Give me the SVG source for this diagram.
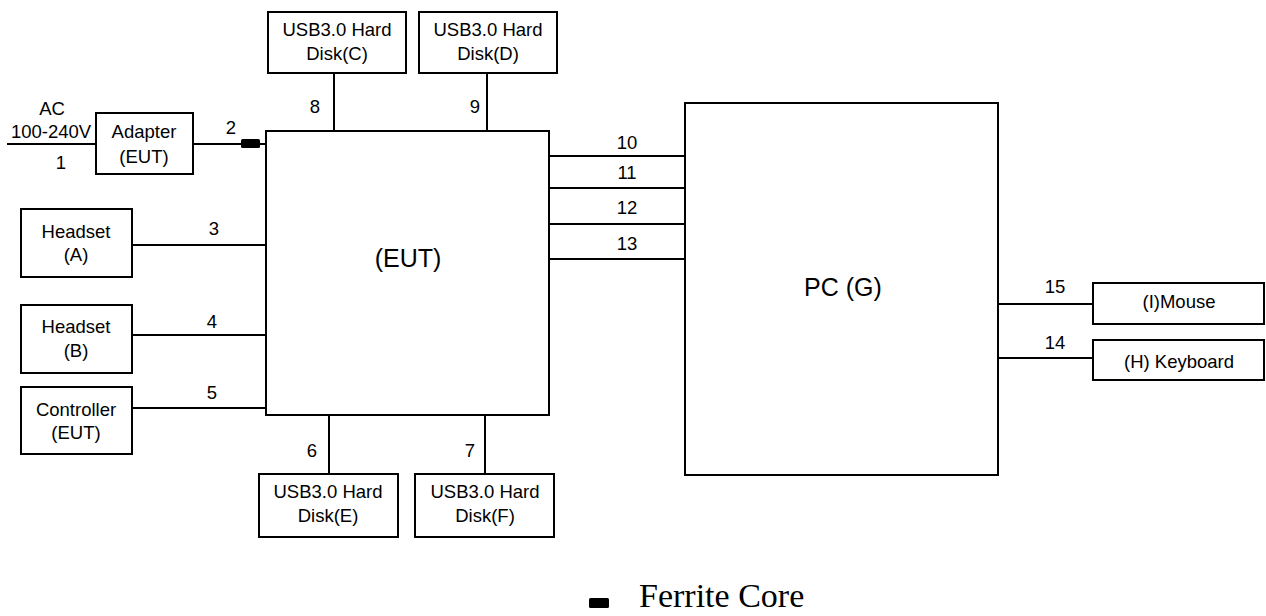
<svg xmlns="http://www.w3.org/2000/svg" width="1266" height="616" viewBox="0 0 1266 616">
<style>
rect.box{fill:#fff;stroke:#000;stroke-width:2}
.conn line{stroke:#000;stroke-width:2}
text{font-family:"Liberation Sans",Arial,sans-serif;font-size:18.5px;fill:#000;text-anchor:middle}
text.big{font-size:25px}
text.legend{font-family:"Liberation Serif","Times New Roman",serif;font-size:34px;text-anchor:start}
.core{fill:#000}
</style>
<rect width="1266" height="616" fill="#fff"/>
<g id="connectors" class="conn">
<line x1="7" y1="144" x2="96" y2="144"/>
<line x1="193" y1="144" x2="266" y2="144"/>
<line x1="334" y1="73" x2="334" y2="131"/>
<line x1="487" y1="73" x2="487" y2="131"/>
<line x1="132" y1="245" x2="266" y2="245"/>
<line x1="132" y1="335" x2="266" y2="335"/>
<line x1="132" y1="408" x2="266" y2="408"/>
<line x1="329" y1="415" x2="329" y2="474"/>
<line x1="485" y1="415" x2="485" y2="474"/>
<line x1="549" y1="156" x2="685" y2="156"/>
<line x1="549" y1="188" x2="685" y2="188"/>
<line x1="549" y1="224" x2="685" y2="224"/>
<line x1="549" y1="259" x2="687" y2="259"/>
<line x1="998" y1="304" x2="1093" y2="304"/>
<line x1="998" y1="358" x2="1093" y2="358"/>
<rect class="core" x="241" y="139" width="19" height="9" rx="1.5"/>
<text x="52" y="115">AC</text>
<text x="51" y="138">100-240V</text>
<text x="61" y="169">1</text>
<text x="231" y="134">2</text>
<text x="315" y="113">8</text>
<text x="475" y="113">9</text>
<text x="214" y="235">3</text>
<text x="212" y="328">4</text>
<text x="212" y="399">5</text>
<text x="312" y="457">6</text>
<text x="470" y="457">7</text>
<text x="627" y="149">10</text>
<text x="627" y="179">11</text>
<text x="627" y="214">12</text>
<text x="627" y="250">13</text>
<text x="1055" y="293">15</text>
<text x="1055" y="349">14</text>
</g>
<g id="adapter">
<rect class="box" x="96" y="113" width="97" height="61"/>
<text x="144" y="138">Adapter</text>
<text x="144" y="163">(EUT)</text>
</g>
<g id="diskC">
<rect class="box" x="268" y="12" width="138" height="61"/>
<text x="337" y="36">USB3.0 Hard</text>
<text x="337" y="60">Disk(C)</text>
</g>
<g id="diskD">
<rect class="box" x="419" y="12" width="138" height="61"/>
<text x="488" y="36">USB3.0 Hard</text>
<text x="488" y="60">Disk(D)</text>
</g>
<g id="eut">
<rect class="box" x="266" y="131" width="283" height="284"/>
<text class="big" x="408" y="267">(EUT)</text>
</g>
<g id="headsetA">
<rect class="box" x="21" y="209" width="111" height="68"/>
<text x="76" y="238">Headset</text>
<text x="76" y="261">(A)</text>
</g>
<g id="headsetB">
<rect class="box" x="21" y="305" width="111" height="68"/>
<text x="76" y="333">Headset</text>
<text x="76" y="357">(B)</text>
</g>
<g id="controller">
<rect class="box" x="21" y="387" width="111" height="67"/>
<text x="76" y="416">Controller</text>
<text x="76" y="439">(EUT)</text>
</g>
<g id="diskE">
<rect class="box" x="259" y="474" width="139" height="63"/>
<text x="328" y="498">USB3.0 Hard</text>
<text x="328" y="522">Disk(E)</text>
</g>
<g id="diskF">
<rect class="box" x="415" y="474" width="139" height="63"/>
<text x="485" y="498">USB3.0 Hard</text>
<text x="485" y="522">Disk(F)</text>
</g>
<g id="pc">
<rect class="box" x="685" y="103" width="313" height="372"/>
<text class="big" x="843" y="296">PC (G)</text>
</g>
<g id="mouse">
<rect class="box" x="1093" y="283" width="171" height="41"/>
<text x="1179" y="308">(I)Mouse</text>
</g>
<g id="keyboard">
<rect class="box" x="1093" y="340" width="171" height="40"/>
<text x="1179" y="368">(H) Keyboard</text>
</g>
<g id="legend">
<rect class="core" x="589" y="598" width="20" height="10" rx="1.5"/>
<text class="legend" x="639" y="607">Ferrite Core</text>
</g>
</svg>
